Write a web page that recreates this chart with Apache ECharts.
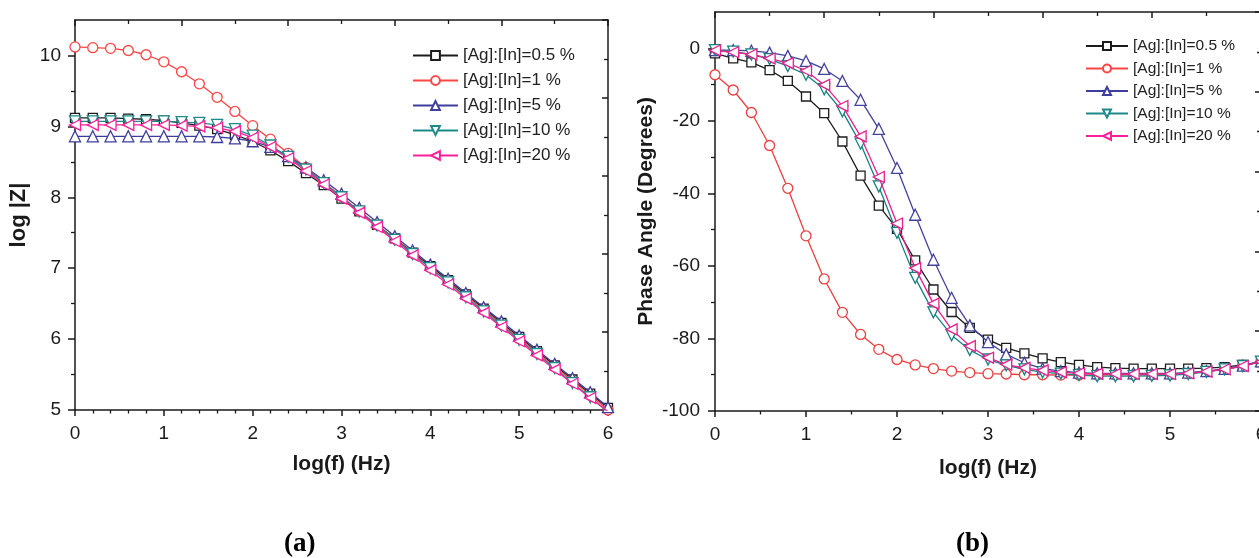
<!DOCTYPE html>
<html>
<head>
<meta charset="utf-8">
<script src="https://cdn.jsdelivr.net/npm/echarts@6/dist/echarts.min.js"></script>
<style>
  html, body { margin: 0; padding: 0; background: #fff; }
  #chart { width: 1259px; height: 558px; }
</style>
</head>
<body>
<div id="chart"></div>
<script>
// ---- data ----
const logF = [0, 0.2, 0.4, 0.6, 0.8, 1.0, 1.2, 1.4, 1.6, 1.8, 2.0, 2.2, 2.4, 2.6, 2.8, 3.0,
              3.2, 3.4, 3.6, 3.8, 4.0, 4.2, 4.4, 4.6, 4.8, 5.0, 5.2, 5.4, 5.6, 5.8, 6.0];

const seriesNames = ['[Ag]:[In]=0.5 %', '[Ag]:[In]=1 %', '[Ag]:[In]=5 %', '[Ag]:[In]=10 %', '[Ag]:[In]=20 %'];

// (a) log|Z|
const logZ_05 = [9.12, 9.12, 9.12, 9.11, 9.10, 9.08, 9.05, 9.01, 8.96, 8.88, 8.79, 8.66, 8.51, 8.34, 8.17, 7.98,
                 7.80, 7.61, 7.42, 7.22, 7.03, 6.83, 6.63, 6.43, 6.23, 6.03, 5.83, 5.63, 5.43, 5.23, 5.03];
const logZ_1  = [10.12, 10.11, 10.10, 10.07, 10.01, 9.91, 9.77, 9.60, 9.41, 9.21, 9.01, 8.82, 8.62, 8.42, 8.21, 8.01,
                 7.81, 7.61, 7.41, 7.21, 7.01, 6.81, 6.61, 6.41, 6.21, 6.01, 5.81, 5.61, 5.41, 5.21, 5.00];
const logZ_5  = [8.86, 8.86, 8.86, 8.86, 8.86, 8.86, 8.86, 8.86, 8.85, 8.83, 8.79, 8.71, 8.58, 8.42, 8.24, 8.05,
                 7.85, 7.65, 7.45, 7.25, 7.05, 6.85, 6.65, 6.45, 6.25, 6.05, 5.85, 5.65, 5.45, 5.25, 5.04];
const logZ_10 = [9.07, 9.07, 9.07, 9.07, 9.07, 9.07, 9.06, 9.05, 9.02, 8.96, 8.87, 8.73, 8.57, 8.39, 8.20, 8.00,
                 7.80, 7.60, 7.40, 7.20, 7.00, 6.80, 6.59, 6.39, 6.19, 5.99, 5.79, 5.59, 5.38, 5.18, 4.97];
const logZ_20 = [9.02, 9.02, 9.02, 9.02, 9.02, 9.02, 9.01, 9.00, 8.98, 8.93, 8.84, 8.71, 8.55, 8.37, 8.18, 7.98,
                 7.78, 7.58, 7.38, 7.18, 6.97, 6.77, 6.57, 6.37, 6.17, 5.97, 5.77, 5.57, 5.37, 5.17, 4.98];

// (b) phase angle (degrees)
const phase_05 = [-1.4, -2.8, -3.9, -6.0, -9.0, -13.3, -17.9, -25.7, -35.1, -43.4, -49.8, -58.5, -66.5, -72.7, -77.1, -80.3,
                  -82.6, -84.1, -85.5, -86.5, -87.3, -87.9, -88.2, -88.3, -88.3, -88.3, -88.3, -88.2, -87.9, -87.3, -86.5];
const phase_1  = [-7.3, -11.5, -17.7, -26.8, -38.6, -51.7, -63.6, -72.8, -78.9, -83.0, -85.8, -87.3, -88.3, -89.0, -89.4, -89.7,
                  -89.8, -90.0, -90.0, -90.1, -90.1, -90.0, -90.0, -90.0, -90.0, -89.9, -89.6, -89.1, -88.5, -87.6, -86.4];
const phase_5  = [-0.5, -0.5, -0.7, -1.2, -2.1, -3.5, -5.7, -9.0, -14.2, -22.2, -33.0, -45.9, -58.3, -68.8, -76.4, -81.0,
                  -84.4, -86.7, -88.3, -89.0, -89.4, -89.6, -89.6, -89.6, -89.6, -89.6, -89.4, -89.0, -88.4, -87.5, -86.3];
const phase_10 = [-0.5, -0.9, -1.7, -3.0, -4.9, -7.3, -11.3, -17.4, -26.3, -38.1, -50.9, -63.3, -72.8, -79.1, -83.2, -85.8,
                  -87.4, -88.5, -89.3, -89.7, -90.1, -90.4, -90.4, -90.4, -90.3, -90.2, -89.8, -89.2, -88.5, -87.6, -86.4];
const phase_20 = [-0.6, -1.1, -1.7, -2.8, -4.1, -6.2, -10.1, -15.9, -24.3, -35.5, -48.3, -60.6, -70.4, -77.5, -82.1, -85.3,
                  -87.2, -88.1, -88.8, -89.3, -89.6, -89.7, -89.8, -89.8, -89.8, -89.8, -89.6, -89.1, -88.5, -87.6, -86.4];

// tick labels
const logZTicks = [5, 6, 7, 8, 9, 10];
const logZMinor = [5.5, 6.5, 7.5, 8.5, 9.5];
const phaseTicks = [-100, -80, -60, -40, -20, 0];
const phaseMinor = [-90, -70, -50, -30, -10];

// ---- style ----
const colorsA = ['#1c1c1c', '#ff4646', '#3d3d9e', '#1f8a8a', '#ff1f9a'];
const colorsB = ['#1c1c1c', '#ea4040', '#42429c', '#178080', '#e8208e'];
const symbols = ['rect', 'circle', 'triangle', 'path://M0,0 L10,0 L5,9 Z', 'path://M9,0 L9,10 L0,5 Z'];
const symSizes = [9, 10, 11, 11, 11];
const FONT = '"Liberation Sans", Arial, sans-serif';
const AX = '#1a1a1a';

const chart = echarts.init(document.getElementById('chart'), null, { renderer: 'canvas' });

function mainX(grid, minorSplit, nameGap) {
  return {
    type: 'value', gridIndex: grid, position: 'bottom', min: 0, max: 6, interval: 1,
    name: 'log(f) (Hz)', nameLocation: 'middle', nameGap: nameGap,
    nameTextStyle: { fontFamily: FONT, fontWeight: 'bold', fontSize: 21, color: AX },
    axisLine: { show: true, onZero: false, lineStyle: { color: AX, width: 1.5 } },
    axisTick: { show: true, inside: false, length: 6, lineStyle: { color: AX, width: 1.5 } },
    minorTick: { show: true, splitNumber: minorSplit, length: 3.5, lineStyle: { color: AX, width: 1.3 } },
    axisLabel: { fontFamily: FONT, fontSize: 19, color: AX, margin: 14 },
    splitLine: { show: false }
  };
}
function mirrorX(grid) {
  return {
    type: 'value', gridIndex: grid, position: 'top', min: 0, max: 10, interval: 2,
    axisLine: { show: true, onZero: false, lineStyle: { color: AX, width: 1.5 } },
    axisTick: { show: true, inside: true, length: 6, lineStyle: { color: AX, width: 1.5 } },
    minorTick: { show: true, splitNumber: 2, length: 4, lineStyle: { color: AX, width: 1.3 } },
    axisLabel: { show: false }, splitLine: { show: false }, minorSplitLine: { show: false }
  };
}
function mirrorY(grid) {
  return {
    type: 'value', gridIndex: grid, position: 'right', min: 0, max: 10, interval: 2,
    axisLine: { show: true, onZero: false, lineStyle: { color: AX, width: 1.5 } },
    axisTick: { show: true, inside: true, length: 6, lineStyle: { color: AX, width: 1.5 } },
    minorTick: { show: true, splitNumber: 2, length: 4, lineStyle: { color: AX, width: 1.3 } },
    axisLabel: { show: false }, splitLine: { show: false }
  };
}
function minorY(grid, min, max, vals) {
  return {
    type: 'value', gridIndex: grid, position: 'left', min: min, max: max,
    axisLine: { show: false },
    axisTick: { show: true, inside: false, length: 4, customValues: vals, lineStyle: { color: AX, width: 1.3 } },
    axisLabel: { show: false }, splitLine: { show: false }
  };
}

function makeSeries(arrs, colors, xi, yi) {
  return arrs.map((arr, k) => ({
    type: 'line', name: seriesNames[k], xAxisIndex: xi, yAxisIndex: yi,
    data: logF.map((x, i) => [x, arr[i]]),
    symbol: symbols[k], symbolSize: symSizes[k], showSymbol: true,
    lineStyle: { color: colors[k], width: 1.3 },
    itemStyle: { color: '#ffffff', borderColor: colors[k], borderWidth: 1.3 },
    emphasis: { disabled: true },
    animation: false, z: 2 + k
  }));
}

const option = {
  animation: false,
  backgroundColor: '#ffffff',
  grid: [
    { left: 75, right: 651, top: 20, bottom: 148, containLabel: false, outerBoundsMode: 'none' },
    { left: 715, right: -2, top: 12, bottom: 147, containLabel: false, outerBoundsMode: 'none' }
  ],
  legend: [
    {
      data: seriesNames, orient: 'vertical', left: 407, top: 42,
      itemWidth: 45, itemHeight: 11, itemGap: 8,
      textStyle: { fontFamily: FONT, fontSize: 17, color: '#222' },
      selectedMode: false
    },
    {
      data: seriesNames, orient: 'vertical', left: 1080, top: 33,
      itemWidth: 42, itemHeight: 10, itemGap: 6.5,
      textStyle: { fontFamily: FONT, fontSize: 15.5, color: '#222' },
      selectedMode: false
    }
  ],
  xAxis: [ mainX(0, 5, 44), mirrorX(0), mainX(1, 2, 47), mirrorX(1) ],
  yAxis: [
    {
      type: 'value', gridIndex: 0, position: 'left', min: 5, max: 10.5,
      name: 'log |Z|', nameLocation: 'middle', nameGap: 45, nameRotate: 90,
      nameTextStyle: { fontFamily: FONT, fontWeight: 'bold', fontSize: 22, color: AX },
      axisLine: { show: true, onZero: false, lineStyle: { color: AX, width: 1.5 } },
      axisTick: { show: true, inside: false, length: 7, customValues: logZTicks, lineStyle: { color: AX, width: 1.5 } },
      axisLabel: { fontFamily: FONT, fontSize: 19, color: AX, margin: 14, customValues: logZTicks },
      splitLine: { show: false }
    },
    minorY(0, 5, 10.5, logZMinor),
    mirrorY(0),
    {
      type: 'value', gridIndex: 1, position: 'left', min: -100, max: 10,
      name: 'Phase Angle (Degrees)', nameLocation: 'middle', nameGap: 58, nameRotate: 90,
      nameTextStyle: { fontFamily: FONT, fontWeight: 'bold', fontSize: 21, color: AX },
      axisLine: { show: true, onZero: false, lineStyle: { color: AX, width: 1.5 } },
      axisTick: { show: true, inside: false, length: 7, customValues: phaseTicks, lineStyle: { color: AX, width: 1.5 } },
      axisLabel: { fontFamily: FONT, fontSize: 19, color: AX, margin: 15, customValues: phaseTicks },
      splitLine: { show: false }
    },
    minorY(1, -100, 10, phaseMinor),
    mirrorY(1)
  ],
  graphic: [
    { type: 'text', left: 284, top: 531, style: { text: '(a)', font: 'bold 27px "Liberation Serif", "Times New Roman", serif', fill: '#000' } },
    { type: 'text', left: 956, top: 531, style: { text: '(b)', font: 'bold 27px "Liberation Serif", "Times New Roman", serif', fill: '#000' } }
  ],
  series: [
    ...makeSeries([logZ_05, logZ_1, logZ_5, logZ_10, logZ_20], colorsA, 0, 0),
    ...makeSeries([phase_05, phase_1, phase_5, phase_10, phase_20], colorsB, 2, 3)
  ]
};

chart.setOption(option);
</script>
</body>
</html>
